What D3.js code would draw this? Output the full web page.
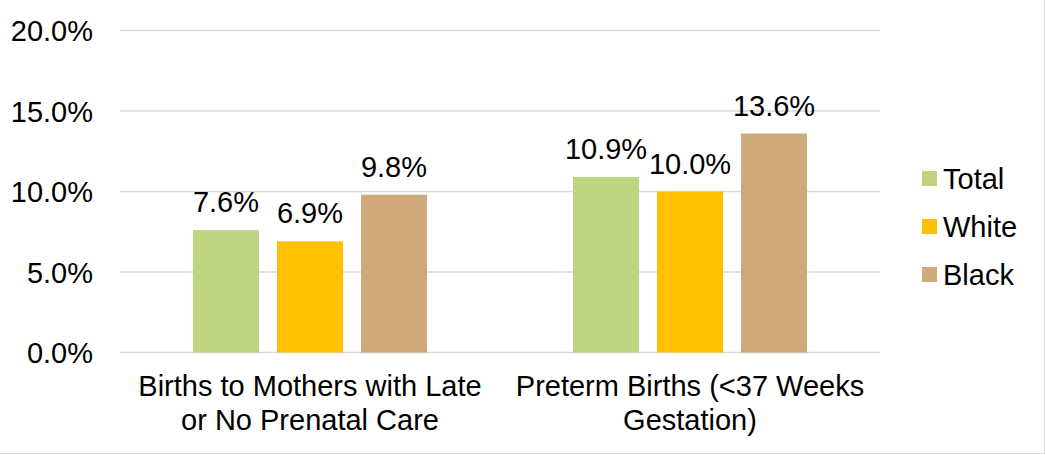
<!DOCTYPE html>
<html>
<head>
<meta charset="utf-8">
<script src="https://cdn.jsdelivr.net/npm/d3@7"></script>
<style>
  body { margin: 0; background: #fff; }
  svg text { font-family: "Liberation Sans", Arial, sans-serif; fill: #000; }
</style>
</head>
<body>
<div id="chart"></div>
<script>
var width = 1045;
var height = 455;

// data
var categories = ['Births to Mothers with Late or No Prenatal Care', 'Preterm Births (<37 Weeks Gestation)'];
var categoryLines = [['Births to Mothers with Late', 'or No Prenatal Care'], ['Preterm Births (<37 Weeks', 'Gestation)']];
var series = ['Total', 'White', 'Black'];
var totalValues = [7.6, 10.9];
var whiteValues = [6.9, 10.0];
var blackValues = [9.8, 13.6];
var yTicks = [0, 5, 10, 15, 20];
var colors = ['#bdd57f', '#ffc000', '#cfa87b'];

var rows = categories.map(function(c, i) {
  return { cat: c, vals: [totalValues[i], whiteValues[i], blackValues[i]] };
});

var svg = d3.select('#chart').append('svg')
  .attr('width', width)
  .attr('height', height);

// light frame (right and bottom show in the picture)
svg.append('line').attr('x1', 1044.5).attr('x2', 1044.5).attr('y1', 0).attr('y2', 454)
  .attr('stroke', '#d9d9d9').attr('stroke-width', 1);
svg.append('line').attr('x1', 0).attr('x2', 1045).attr('y1', 453.5).attr('y2', 453.5)
  .attr('stroke', '#d9d9d9').attr('stroke-width', 1);

var x0 = d3.scaleBand()
  .domain(categories)
  .range([120, 880]);

var x1 = d3.scaleBand()
  .domain(series)
  .range([73, 307])
  .paddingInner(18 / 84);

var yScale = d3.scaleLinear()
  .domain([0, 20])
  .range([352.5, 30.5]);

// gridlines
svg.selectAll('.grid')
  .data(yTicks)
  .enter().append('line').classed('grid', true)
  .attr('x1', 120)
  .attr('x2', 880)
  .attr('y1', function(d) { return yScale(d); })
  .attr('y2', function(d) { return yScale(d); })
  .attr('stroke', '#d9d9d9')
  .attr('stroke-width', 1.5);

// y labels
svg.selectAll('.ylab')
  .data(yTicks)
  .enter().append('text').classed('ylab', true)
  .attr('x', 93)
  .attr('y', function(d) { return yScale(d) + 10.5; })
  .attr('text-anchor', 'end')
  .style('font-size', '29px')
  .text(function(d) { return d.toFixed(1) + '%'; });

// bars
var groups = svg.selectAll('.grp')
  .data(rows)
  .enter().append('g').classed('grp', true)
  .attr('transform', function(d) { return 'translate(' + x0(d.cat) + ',0)'; });

groups.selectAll('rect')
  .data(function(d) { return d.vals; })
  .enter().append('rect')
  .attr('x', function(d, i) { return x1(series[i]); })
  .attr('width', x1.bandwidth())
  .attr('y', function(d) { return yScale(d); })
  .attr('height', function(d) { return yScale(0) - yScale(d); })
  .attr('fill', function(d, i) { return colors[i]; });

groups.selectAll('.val')
  .data(function(d) { return d.vals; })
  .enter().append('text').classed('val', true)
  .attr('x', function(d, i) { return x1(series[i]) + x1.bandwidth() / 2; })
  .attr('y', function(d) { return yScale(d) - 18; })
  .attr('text-anchor', 'middle')
  .style('font-size', '29px')
  .text(function(d) { return d.toFixed(1) + '%'; });

// category labels
categories.forEach(function(c, i) {
  var t = svg.append('text')
    .attr('text-anchor', 'middle')
    .style('font-size', '29px');
  categoryLines[i].forEach(function(line, j) {
    t.append('tspan')
      .attr('x', x0(c) + x0.bandwidth() / 2)
      .attr('y', 396 + j * 34)
      .text(line);
  });
});

// legend
var legend = svg.selectAll('.leg')
  .data(series)
  .enter().append('g').classed('leg', true)
  .attr('transform', function(d, i) { return 'translate(922,' + (171 + i * 48) + ')'; });

legend.append('rect')
  .attr('width', 15)
  .attr('height', 15)
  .attr('fill', function(d, i) { return colors[i]; });

legend.append('text')
  .attr('x', 21)
  .attr('y', 18)
  .style('font-size', '29px')
  .text(function(d) { return d; });
</script>
</body>
</html>
